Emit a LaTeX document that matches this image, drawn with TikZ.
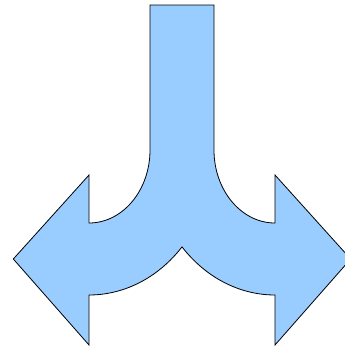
\documentclass[tikz,border=0pt]{standalone}
\definecolor{arrowfill}{RGB}{153,204,255}
\tikzset{shapefill/.style={fill=arrowfill,draw=black,line width=0.8pt,line join=miter}}
\begin{document}
\begin{tikzpicture}[x=1pt,y=1pt]
\useasboundingbox (0,0) rectangle (345,-349);
\pgfmathsetmacro{\ang}{180+acos(93/125)}
\pgfmathsetmacro{\angl}{360-acos(93/125)}
\path[shapefill]
  (150,-5) -- (214,-5) -- (214,-150)
  arc[start angle=180,end angle=270,x radius=61pt,y radius=73pt]
  -- (275,-175) -- (350.7,-259) -- (275,-345) -- (275,-295)
  arc[start angle=270,end angle=\ang,x radius=125pt,y radius=145pt]
  arc[start angle=\angl,end angle=270,x radius=125pt,y radius=145pt]
  -- (89,-345) -- (13.3,-259) -- (89,-175) -- (89,-223)
  arc[start angle=270,end angle=360,x radius=61pt,y radius=73pt]
  -- cycle;
\end{tikzpicture}
\end{document}
